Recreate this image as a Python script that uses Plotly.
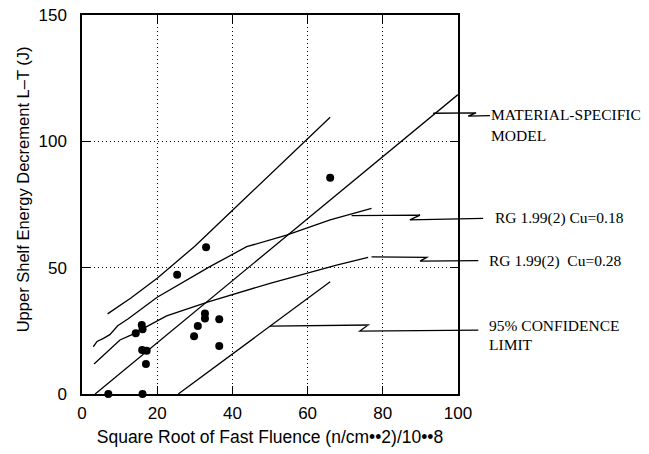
import plotly.graph_objects as go

# ---- data ----
pts_x = [33.0, 25.3, 15.9, 16.1, 14.3, 16.0, 17.2, 17.0, 7.0, 16.1,
         32.7, 32.7, 36.5, 30.8, 29.8, 36.5, 66.0]
pts_y = [58.1, 47.2, 27.3, 25.6, 24.0, 17.4, 17.1, 11.9, 0.0, 0.0,
         31.9, 29.9, 29.6, 26.9, 22.9, 19.0, 85.6]

model_x = [3.5, 100.0]
model_y = [0.0, 118.5]

upper_x = [6.8, 13.0, 20.0, 30.0, 42.9, 55.0, 66.0]
upper_y = [31.7, 38.0, 45.8, 58.5, 76.8, 93.8, 109.5]

lower_x = [25.6, 50.0, 66.0]
lower_y = [0.0, 26.9, 44.4]

cu18_x = [3.0, 4.0, 5.7, 7.4, 9.5, 12.3, 20.0, 34.0, 43.8, 54.4, 66.0, 77.0]
cu18_y = [18.7, 20.8, 22.0, 23.5, 27.0, 29.8, 38.3, 50.4, 58.3, 62.9, 68.9, 73.5]

cu28_x = [3.2, 10.1, 13.0, 18.1, 22.5, 33.6, 50.0, 67.7, 76.1]
cu28_y = [11.9, 21.4, 23.3, 27.3, 30.9, 36.5, 43.8, 51.0, 54.1]

# label leader lines (data units, may extend past the axis)
lead_model = ([93.4, 104.8, 102.7, 108.5], [111.1, 111.3, 110.0, 110.2])
lead_cu18 = ([71.7, 89.9, 87.2, 106.7], [70.6, 70.8, 68.9, 69.5])
lead_cu28 = ([77.0, 91.7, 89.9, 105.4], [54.3, 54.1, 52.6, 52.8])
lead_conf = ([50.0, 76.1, 73.9, 105.4], [26.9, 27.3, 24.9, 25.3])

labels = [
    ("MATERIAL-SPECIFIC", 108.2, 110.7),
    ("MODEL", 108.2, 102.5),
    ("RG 1.99(2) Cu=0.18", 109.2, 69.5),
    ("RG 1.99(2)\u00a0\u00a0Cu=0.28", 107.6, 52.8),
    ("95% CONFIDENCE", 107.6, 27.3),
    ("LIMIT", 107.6, 19.5),
]

X_TITLE = "Square Root of Fast Fluence (n/cm\u2022\u20222)/10\u2022\u20228"
Y_TITLE = "Upper Shelf Energy Decrement L\u2013T (J)"

X_RANGE = [0, 100]
Y_RANGE = [0, 150]

fig = go.Figure()
line_style = dict(color="black", width=1.3)
for xs, ys in [(model_x, model_y), (upper_x, upper_y), (lower_x, lower_y),
               (cu18_x, cu18_y), (cu28_x, cu28_y)]:
    fig.add_trace(go.Scatter(x=xs, y=ys, mode="lines", line=line_style,
                             showlegend=False, hoverinfo="skip"))

fig.add_trace(go.Scatter(x=pts_x, y=pts_y, mode="markers",
                         marker=dict(color="black", size=8),
                         cliponaxis=False, showlegend=False))


def to_paper(x, y):
    return ((x - X_RANGE[0]) / (X_RANGE[1] - X_RANGE[0]),
            (y - Y_RANGE[0]) / (Y_RANGE[1] - Y_RANGE[0]))


shapes = []
for xs, ys in [lead_model, lead_cu18, lead_cu28, lead_conf]:
    segs = []
    for i, (x, y) in enumerate(zip(xs, ys)):
        px, py = to_paper(x, y)
        segs.append(("M" if i == 0 else "L") + f" {px:.4f} {py:.4f}")
    shapes.append(dict(type="path", xref="paper", yref="paper",
                       path=" ".join(segs), line=dict(color="black", width=1.3)))

annotations = []
for text, x, y in labels:
    px, py = to_paper(x, y)
    annotations.append(dict(text=text, x=px, y=py, xref="paper", yref="paper",
                            xanchor="left", yanchor="middle", showarrow=False,
                            font=dict(family="Liberation Sans" if False else "Liberation Serif",
                                      size=15.5, color="black")))

# y-axis title as a rotated annotation (sits slightly above the plot centre)
annotations.append(dict(text=Y_TITLE, x=-0.157, y=0.54, xref="paper", yref="paper",
                        xanchor="center", yanchor="middle", textangle=-90,
                        showarrow=False,
                        font=dict(family="Liberation Sans", size=16.5, color="black")))

axis_common = dict(showline=True, linecolor="black", linewidth=1.5,
                   mirror="ticks", ticks="inside", ticklen=8, tickcolor="black",
                   tickwidth=1, showgrid=True, gridcolor="black", gridwidth=1,
                   griddash="1px,3px", zeroline=False, automargin=False,
                   tickfont=dict(family="Liberation Sans", size=17, color="black"))

fig.update_xaxes(range=X_RANGE, dtick=20, tick0=0, ticklabelstandoff=3,
                 title=dict(text=X_TITLE,
                            font=dict(family="Liberation Sans", size=17.5, color="black"),
                            standoff=9),
                 **axis_common)
fig.update_yaxes(range=Y_RANGE, dtick=50, tick0=0, ticklabelstandoff=10,
                 **axis_common)

fig.update_layout(width=649, height=454, margin=dict(l=82, r=191, t=15, b=60),
                  plot_bgcolor="white", paper_bgcolor="white",
                  shapes=shapes, annotations=annotations, showlegend=False)

fig.write_html("out.html")
